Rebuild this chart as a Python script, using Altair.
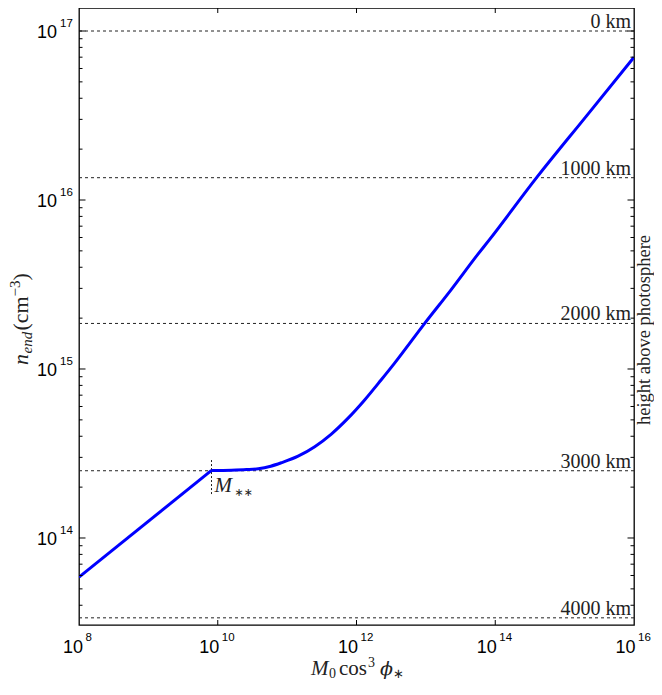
import altair as alt
import pandas as pd

# ---------------- data ----------------
# straight part (below M**)
seg1_M = [1e8, 8.13e9]
seg1_n = [5.87e13, 2.51e14]
# curved part (above M**)
seg2_M = [8.13e9, 1.58e10, 2.6e10, 3.84e10, 5.8e10, 8.3e10, 1.44e11, 2.5e11,
          4.34e11, 7.5e11, 1.31e12, 2.26e12, 3.52e12, 9.5e12, 2.29e13, 5.53e13,
          8.15e13, 4.02e14, 2.1e15, 1e16]
seg2_n = [2.51e14, 2.52e14, 2.54e14, 2.57e14, 2.66e14, 2.79e14, 3.05e14, 3.47e14,
          4.12e14, 5.1e14, 6.56e14, 8.61e14, 1.08e15, 1.85e15, 2.93e15, 4.73e15,
          5.79e15, 1.37e16, 3.17e16, 7.0e16]

km_n = [1e17, 1.355e16, 1.86e15, 2.5e14, 3.37e13]
km_labels = ["0 km", "1000 km", "2000 km", "3000 km", "4000 km"]

Mss = 8.13e9
Mss_n_lo, Mss_n_hi = 1.82e14, 2.97e14

y_major = [1e14, 1e15, 1e16, 1e17]
y_major_exp = ["14", "15", "16", "17"]
x_major = [1e8, 1e10, 1e12, 1e14, 1e16]
x_major_exp = ["8", "10", "12", "14", "16"]

# ---------------- layout ----------------
W, H = 555, 617
XDOM = [1e8, 1e16]
YDOM = [10 ** 13.4852, 10 ** 17.1361]
xs = alt.Scale(type="log", domain=XDOM, nice=False)
ys = alt.Scale(type="log", domain=YDOM, nice=False)
SERIF = "Liberation Serif"
SANS = "Liberation Sans"
INK = "#222"

y_minor = [k * 10 ** d for d in range(13, 18) for k in range(2, 10)
           if YDOM[0] <= k * 10 ** d <= YDOM[1]]

seg1 = pd.DataFrame({"M": seg1_M, "n": seg1_n})
seg2 = pd.DataFrame({"M": seg2_M, "n": seg2_n})
km = pd.DataFrame({"n": km_n, "lab": km_labels})
ymaj = pd.DataFrame({"v": y_major, "e": y_major_exp})
ymin = pd.DataFrame({"v": y_minor})
xmaj = pd.DataFrame({"v": x_major, "e": x_major_exp})
xin = pd.DataFrame({"v": x_major[1:-1]})
mss = pd.DataFrame({"M": [Mss], "lo": [Mss_n_lo], "hi": [Mss_n_hi], "n": [km_n[3]]})

Y = lambda f: alt.Y(f, type="quantitative", scale=ys, axis=None)
X = lambda f: alt.X(f, type="quantitative", scale=xs, axis=None)

layers = []

# dashed height lines and their labels
layers.append(alt.Chart(km).mark_rule(color=INK, strokeWidth=1, strokeDash=[3, 3]).encode(y=Y("n")))
layers.append(alt.Chart(km).mark_text(align="right", baseline="alphabetic", dy=-3, font=SERIF,
                                      fontSize=20, color=INK).encode(
    y=Y("n"), x=alt.value(W - 3), text="lab:N"))

# M** marker
layers.append(alt.Chart(mss).mark_rule(color=INK, strokeWidth=1, strokeDash=[2, 2]).encode(
    x=X("M"), y=Y("lo"), y2="hi"))
layers.append(alt.Chart(mss).mark_text(text="M", align="left", baseline="alphabetic", dx=3, dy=21.5,
                                       font=SERIF, fontStyle="italic", fontSize=21, color=INK).encode(
    x=X("M"), y=Y("n")))
layers.append(alt.Chart(mss).mark_text(text="∗∗", align="left", baseline="alphabetic", dx=23, dy=25,
                                       font="DejaVu Sans", fontSize=11, color=INK).encode(
    x=X("M"), y=Y("n")))

# curve
layers.append(alt.Chart(seg1).mark_line(color="#0000ff", strokeWidth=3, clip=True).encode(
    x=X("M"), y=Y("n")))
layers.append(alt.Chart(seg2).mark_line(color="#0000ff", strokeWidth=3, clip=True,
                                        interpolate="monotone").encode(x=X("M"), y=Y("n")))

# ticks (inward)
layers.append(alt.Chart(ymin).mark_rule(color="black", strokeWidth=1).encode(
    y=Y("v"), x=alt.value(0), x2=alt.value(3.5)))
layers.append(alt.Chart(ymin).mark_rule(color="black", strokeWidth=1).encode(
    y=Y("v"), x=alt.value(W), x2=alt.value(W - 3.5)))
layers.append(alt.Chart(ymaj).mark_rule(color="black", strokeWidth=1).encode(
    y=Y("v"), x=alt.value(0), x2=alt.value(6.5)))
layers.append(alt.Chart(ymaj).mark_rule(color="black", strokeWidth=1).encode(
    y=Y("v"), x=alt.value(W), x2=alt.value(W - 6.5)))
layers.append(alt.Chart(xin).mark_rule(color="black", strokeWidth=1).encode(
    x=X("v"), y=alt.value(H), y2=alt.value(H - 5)))
layers.append(alt.Chart(xin).mark_rule(color="black", strokeWidth=1).encode(
    x=X("v"), y=alt.value(0), y2=alt.value(5)))

# y tick labels
layers.append(alt.Chart(ymaj).mark_text(text="10", align="right", baseline="alphabetic", dy=7,
                                        font=SANS, fontSize=18, color="black").encode(
    y=Y("v"), x=alt.value(-22)))
layers.append(alt.Chart(ymaj).mark_text(align="left", baseline="alphabetic", dy=-4,
                                        font=SANS, fontSize=11.5, color="black").encode(
    y=Y("v"), x=alt.value(-19), text="e:N"))

# x tick labels
two = alt.datum.v > 1e9
one = alt.datum.v < 1e9
for flt, d10, dex in [(two, 1.5, 4), (one, 4, 6.5)]:
    layers.append(alt.Chart(xmaj).transform_filter(flt).mark_text(
        text="10", align="right", baseline="alphabetic", dx=d10, font=SANS, fontSize=18,
        color="black").encode(x=X("v"), y=alt.value(645)))
    layers.append(alt.Chart(xmaj).transform_filter(flt).mark_text(
        align="left", baseline="alphabetic", dx=dex, font=SANS, fontSize=11.5,
        color="black").encode(x=X("v"), y=alt.value(633), text="e:N"))


def txt(t, x, y, size=21, italic=False, font=SERIF, angle=0, align="left"):
    kw = dict(text=t, align=align, baseline="alphabetic", font=font, fontSize=size, color=INK)
    if italic:
        kw["fontStyle"] = "italic"
    if angle:
        kw["angle"] = angle
    return alt.Chart(mss).mark_text(**kw).encode(x=alt.value(x), y=alt.value(y))


# x title: M_0 cos^3 phi_*
layers += [
    txt("M", 232, 667, italic=True),
    txt("0", 250, 670, size=14),
    txt("cos", 260, 667),
    txt("3", 289, 659, size=14),
    txt("ϕ", 301, 667, italic=True, font="DejaVu Serif", size=19),
    txt("∗", 314, 670, size=13, font="DejaVu Sans"),
]

# y title: n_end (cm^-3), rotated
layers += [
    txt("n", -51, 357, size=22, italic=True, angle=270),
    txt("end", -47, 345.5, size=15, italic=True, angle=270),
    txt("(cm", -51, 322.5, size=22, angle=270),
    txt("−3", -59, 288.5, size=15, angle=270),
    txt(")", -51, 272.5, size=22, angle=270),
]

# right title
layers.append(txt("height above photosphere", 571, 322, size=18.5, angle=270, align="center"))

chart = alt.layer(*layers).properties(
    width=W, height=H,
    autosize=alt.AutoSizeParams(type="none"),
    padding={"left": 71, "top": 0, "right": 20, "bottom": 57},
).configure_view(stroke="black", strokeWidth=1.3)

chart.save("out.html", embed_options={"renderer": "svg", "actions": False})
